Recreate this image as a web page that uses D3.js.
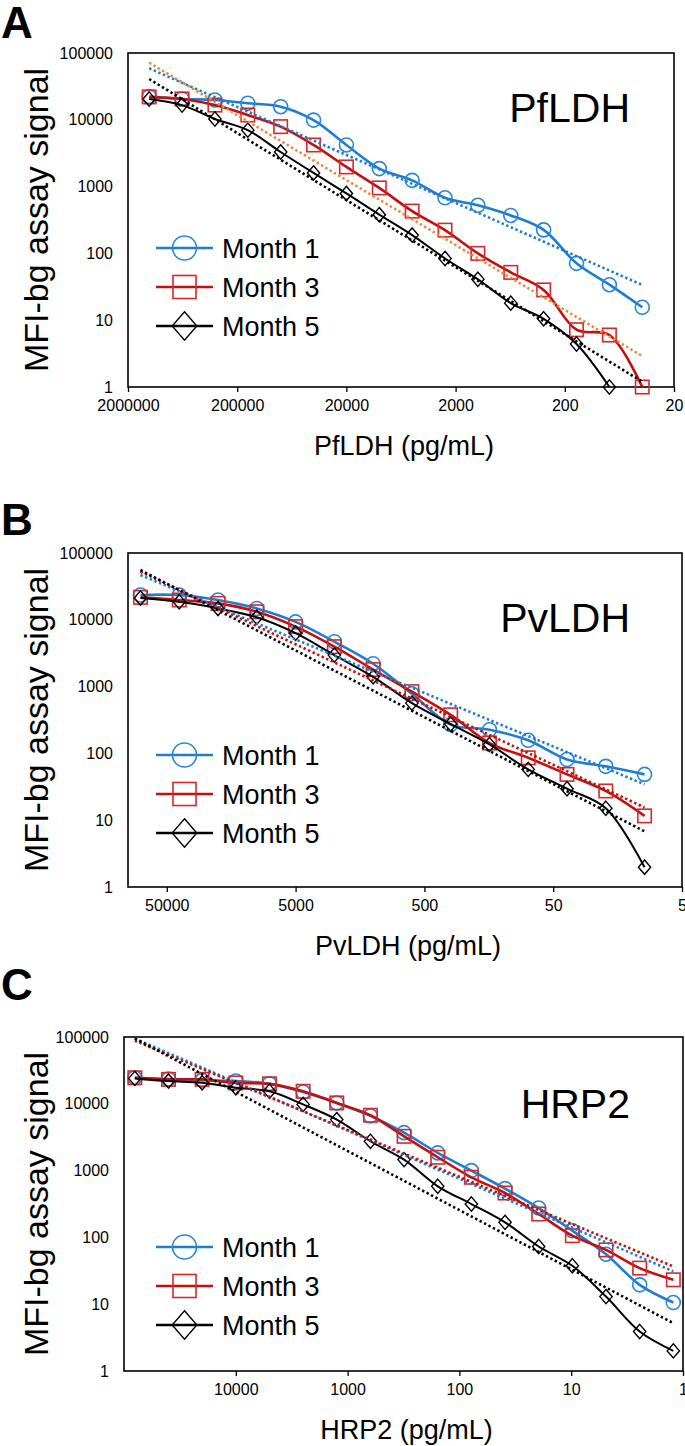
<!DOCTYPE html>
<html>
<head>
<meta charset="utf-8">
<script src="https://cdn.jsdelivr.net/npm/d3@7"></script>
<style>
  body { margin: 0; background: #fff; }
  text { font-family: "Liberation Sans", Arial, sans-serif; }
</style>
</head>
<body>
<div id="chart"></div>
<script>
// ---- data ----
var months = ["Month 1", "Month 3", "Month 5"];
var yTickValues = [1, 10, 100, 1000, 10000, 100000];

// A: PfLDH
var pfConc = [1280000, 640000, 320000, 160000, 80000, 40000, 20000, 10000, 5000, 2500, 1250, 625, 312.5, 156.25, 78.125, 39.0625];
var pfMonth1 = [22200, 20500, 19800, 17700, 15700, 9900, 4200, 1860, 1240, 680, 525, 370, 225, 71, 34, 15.6];
var pfMonth3 = [22000, 20500, 16600, 11800, 7900, 4200, 1970, 955, 430, 223, 100, 52, 28.4, 7.2, 6.0, 1];
var pfMonth5 = [20500, 16600, 10300, 7000, 3300, 1600, 790, 380, 188, 84, 41, 18, 10.5, 4.4, 1];
var pfTicks = [2000000, 200000, 20000, 2000, 200, 20];
var pfTrendStart = [59000, 71600, 40800];
var pfTrendEnd = [33.7, 2.9, 1.2];

// B: PvLDH
var pvConc = [80000, 40000, 20000, 10000, 5000, 2500, 1250, 625, 312.5, 156.25, 78.125, 39.0625, 19.53125, 9.765625];
var pvMonth1 = [23500, 23500, 19800, 14800, 9300, 4700, 2200, 780, 270, 226, 157, 81, 64, 48.5];
var pvMonth3 = [21700, 19800, 17600, 13200, 7900, 3960, 1800, 840, 378, 143, 86, 48.5, 27.4, 11.6];
var pvMonth5 = [21200, 18600, 14800, 10900, 6300, 2960, 1400, 566, 275, 136, 57.6, 29.6, 15.1, 1.98];
var pvTicks = [50000, 5000, 500, 50, 5];
var pvTrendStart = [46800, 52500, 55600];
var pvTrendEnd = [34.4, 15.5, 6.8];

// C: HRP2
var hrConc = [80000, 40000, 20000, 10000, 5000, 2500, 1250, 625, 312.5, 156.25, 78.125, 39.0625, 19.53125, 9.765625, 4.8828125, 2.44140625, 1.220703125];
var hrMonth1 = [24500, 23500, 22500, 21900, 20000, 15000, 10300, 6600, 3700, 1840, 1000, 537, 275, 126, 56, 19.5, 10.6];
var hrMonth3 = [24500, 23200, 23200, 20500, 19900, 15400, 10300, 6740, 3260, 1585, 794, 462, 224, 106, 65, 34.7, 23.2];
var hrMonth5 = [24000, 21900, 20600, 17400, 15400, 9800, 5800, 2750, 1460, 582, 316, 168, 73, 37.6, 13, 3.9, 2.0];
var hrTicks = [10000, 1000, 100, 10, 1];
var hrTrendStart = [95000, 88000, 95000];
var hrTrendEnd = [31, 36.7, 5.2];

// ---- styling ----
var blue = "#1f7dd0", red = "#c40f0f", orange = "#f0863a", black = "#000";
var lineColors = [blue, red, black];
var markerColors = ["#2b86d8", "#d42a2a", "#000"];

var svgWidth = 685, svgHeight = 1446;
var plotHeight = 334;

var panels = [
    { letter: "A", letterY: 38, name: "PfLDH", nameY: 69, title: "PfLDH (pg/mL)",
      conc: pfConc, series: [pfMonth1, pfMonth3, pfMonth5], xDomain: [2000000, 20], ticks: pfTicks,
      trendStart: pfTrendStart, trendEnd: pfTrendEnd, trendColors: [blue, orange, black],
      top: 53, left: 128, right: 674, legendTop: 195 },
    { letter: "B", letterY: 535, name: "PvLDH", nameY: 79, title: "PvLDH (pg/mL)",
      conc: pvConc, series: [pvMonth1, pvMonth3, pvMonth5], xDomain: [100000, 5], ticks: pvTicks,
      trendStart: pvTrendStart, trendEnd: pvTrendEnd, trendColors: [blue, red, black],
      top: 553, left: 128, right: 682, legendTop: 202 },
    { letter: "C", letterY: 1000, name: "HRP2", nameY: 81, title: "HRP2 (pg/mL)",
      conc: hrConc, series: [hrMonth1, hrMonth3, hrMonth5], xDomain: [100000, 1], ticks: hrTicks,
      trendStart: hrTrendStart, trendEnd: hrTrendEnd, trendColors: [blue, red, black],
      top: 1037, left: 124, right: 683, legendTop: 210 }
];

var svg = d3.select("#chart")
    .append("svg")
    .attr("width", svgWidth)
    .attr("height", svgHeight);

// marker drawing: circle / square / diamond, hollow
function drawMarker(sel, kind, x, y, size, color) {
    if (kind === 0) {
        sel.append("circle").attr("cx", x).attr("cy", y).attr("r", size)
            .attr("fill", "none").attr("stroke", color).attr("stroke-width", 1.6);
    } else if (kind === 1) {
        sel.append("rect").attr("x", x - size * 0.96).attr("y", y - size * 0.96)
            .attr("width", size * 1.92).attr("height", size * 1.92)
            .attr("fill", "none").attr("stroke", color).attr("stroke-width", 1.6);
    } else {
        var w = size * 0.88, h = size * 1.02;
        sel.append("path")
            .attr("d", `M${x},${y - h}L${x + w},${y}L${x},${y + h}L${x - w},${y}Z`)
            .attr("fill", "none").attr("stroke", color).attr("stroke-width", 1.4);
    }
}

panels.forEach(function(p) {
    var bottom = p.top + plotHeight;

    var xScale = d3.scaleLog().domain(p.xDomain).range([p.left, p.right]);
    var yScale = d3.scaleLog().domain([1, 100000]).range([bottom, p.top]);

    var g = svg.append("g");

    // panel letter
    g.append("text")
        .attr("x", 1).attr("y", p.letterY)
        .attr("font-size", 44).attr("font-weight", "bold")
        .text(p.letter);

    // axes
    var leftAxis = d3.axisLeft(yScale).tickValues(yTickValues)
        .tickFormat(d3.format("d")).tickSize(0).tickPadding(15);
    var bottomAxis = d3.axisBottom(xScale).tickValues(p.ticks)
        .tickFormat(d => d3.format("d")(d)).tickSize(5).tickPadding(8);

    var ly = g.append("g").attr("transform", `translate(${p.left},0)`).call(leftAxis);
    var lx = g.append("g").attr("transform", `translate(0,${bottom})`).call(bottomAxis);
    [ly, lx].forEach(function(a) {
        a.select(".domain").remove();
        a.selectAll("text").attr("font-size", 16)
            .attr("font-family", "Liberation Sans, Arial, sans-serif").attr("fill", "#000");
        a.selectAll("line").attr("stroke", "#000").attr("stroke-width", 1.3);
    });

    // plot frame
    g.append("rect")
        .attr("x", p.left).attr("y", p.top)
        .attr("width", p.right - p.left).attr("height", plotHeight)
        .attr("fill", "none").attr("stroke", "#000").attr("stroke-width", 1.6);

    // axis titles
    g.append("text")
        .attr("transform", `translate(48, ${p.top + plotHeight / 2}) rotate(-90)`)
        .attr("text-anchor", "middle")
        .attr("font-size", 34)
        .text("MFI-bg assay signal");

    g.append("text")
        .attr("x", (p.left + p.right) / 2 + 3).attr("y", bottom + 68)
        .attr("text-anchor", "middle")
        .attr("font-size", 27)
        .text(p.title);

    // analyte label
    g.append("text")
        .attr("x", 630).attr("y", p.top + p.nameY)
        .attr("text-anchor", "end")
        .attr("font-size", 41)
        .text(p.name);

    // series lines (smoothed)
    var line = d3.line()
        .x((d, i) => xScale(p.conc[i]))
        .y(d => yScale(d))
        .curve(d3.curveCatmullRom.alpha(0.5));

    p.series.forEach(function(vals, k) {
        g.append("path")
            .datum(vals)
            .attr("d", line)
            .attr("fill", "none")
            .attr("stroke", lineColors[k])
            .attr("stroke-width", k === 2 ? 2 : 2.6);
        var mg = g.append("g");
        vals.forEach(function(v, i) {
            drawMarker(mg, k, xScale(p.conc[i]), yScale(v), 7, markerColors[k]);
        });
    });

    // power trendlines (straight on log-log), endpoints
    var trendLine = d3.line().x(d => xScale(d[0])).y(d => yScale(d[1]));
    var xFirst = p.conc[0], xLast = p.conc[p.conc.length - 1];
    p.trendStart.forEach(function(s, k) {
        g.append("path")
            .datum([[xFirst, s], [xLast, p.trendEnd[k]]])
            .attr("d", trendLine)
            .attr("fill", "none")
            .attr("stroke", p.trendColors[k])
            .attr("stroke-width", 2.6)
            .attr("stroke-dasharray", "2.4,2.6");
    });

    // legend
    var legend = g.append("g").attr("transform", `translate(156, ${p.top + p.legendTop})`);
    months.forEach(function(m, k) {
        var row = legend.append("g").attr("transform", `translate(0, ${k * 39})`);
        row.append("line").attr("x1", 0).attr("x2", 57).attr("y1", 0).attr("y2", 0)
            .attr("stroke", lineColors[k]).attr("stroke-width", 2.6);
        drawMarker(row, k, 28.5, 0, k === 2 ? 14 : 12, markerColors[k]);
        row.append("text").attr("x", 66).attr("y", 10)
            .attr("font-size", 27)
            .text(m);
    });
});
</script>
</body>
</html>
